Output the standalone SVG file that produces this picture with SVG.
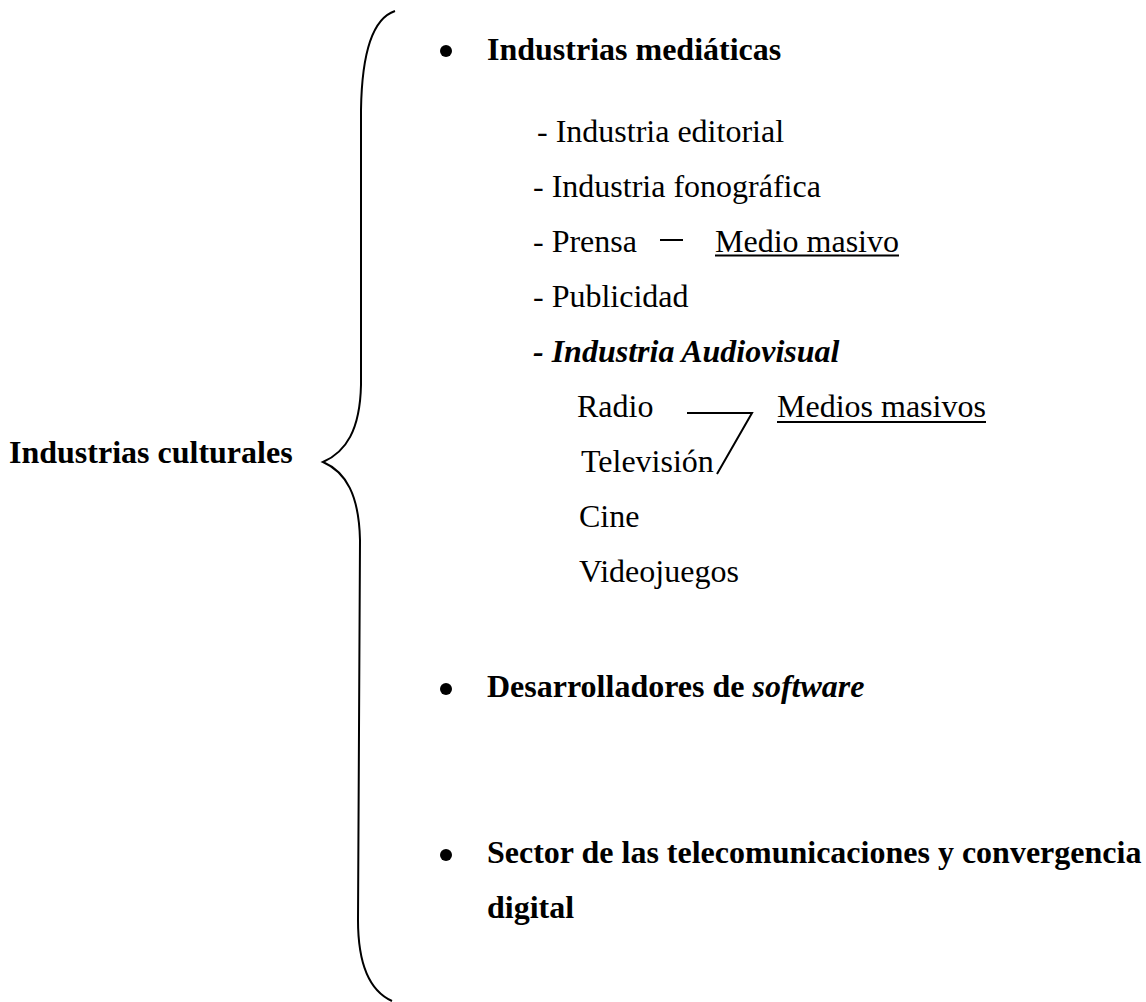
<svg xmlns="http://www.w3.org/2000/svg" width="1146" height="1002" viewBox="0 0 1146 1002">
<style>
  text { font-family: "Liberation Serif", "Times New Roman", serif; font-size: 32px; fill: #000; }
  .b { font-weight: bold; }
  .bi { font-weight: bold; font-style: italic; }
  .ln { stroke: #000; stroke-width: 2; fill: none; }
  .ul { stroke: #000; stroke-width: 2; }
</style>
<rect width="1146" height="1002" fill="#fff"/>
<g id="root">
  <text class="b" x="9" y="463">Industrias culturales</text>
</g>
<g id="brace">
  <path class="ln" d="M395,11 C377,17 362,42 361,110 L361,385 C360,430 346,452 323,462 C346,472 359,495 360,540 L358,920 C358,968 372,992 392,1001"/>
</g>
<g id="mediaticas">
  <circle cx="446" cy="51" r="6"/>
  <text class="b" x="487" y="60">Industrias mediáticas</text>
</g>
<g id="editorial"><text x="537" y="141.5">- Industria editorial</text></g>
<g id="fonografica"><text x="533" y="196.5">- Industria fonográfica</text></g>
<g id="prensa"><text x="533" y="251.5">- Prensa</text></g>
<g id="medio-masivo">
  <text x="715" y="251.5">Medio masivo</text>
  <line class="ul" x1="715" y1="255.5" x2="899" y2="255.5"/>
</g>
<g id="publicidad"><text x="533" y="306.5">- Publicidad</text></g>
<g id="audiovisual"><text class="bi" x="533" y="361.5">- Industria Audiovisual</text></g>
<g id="radio"><text x="577" y="416.5">Radio</text></g>
<g id="medios-masivos">
  <text x="777" y="416.5">Medios masivos</text>
  <line class="ul" x1="777" y1="422" x2="986" y2="422"/>
</g>
<g id="television"><text x="581" y="471.5">Televisión</text></g>
<g id="cine"><text x="579" y="526.5">Cine</text></g>
<g id="videojuegos"><text x="579" y="581.5">Videojuegos</text></g>
<g id="software">
  <circle cx="446" cy="689" r="6"/>
  <text class="b" x="487" y="697">Desarrolladores de <tspan class="bi">software</tspan></text>
</g>
<g id="telecom">
  <circle cx="446" cy="855" r="6"/>
  <text class="b" x="487" y="863">Sector de las telecomunicaciones y convergencia</text>
  <text class="b" x="487" y="918">digital</text>
</g>
<g id="connectors">
  <line class="ln" x1="660" y1="240" x2="683" y2="240"/>
  <polyline class="ln" points="687,413 752,413 717,474"/>
</g>
</svg>
